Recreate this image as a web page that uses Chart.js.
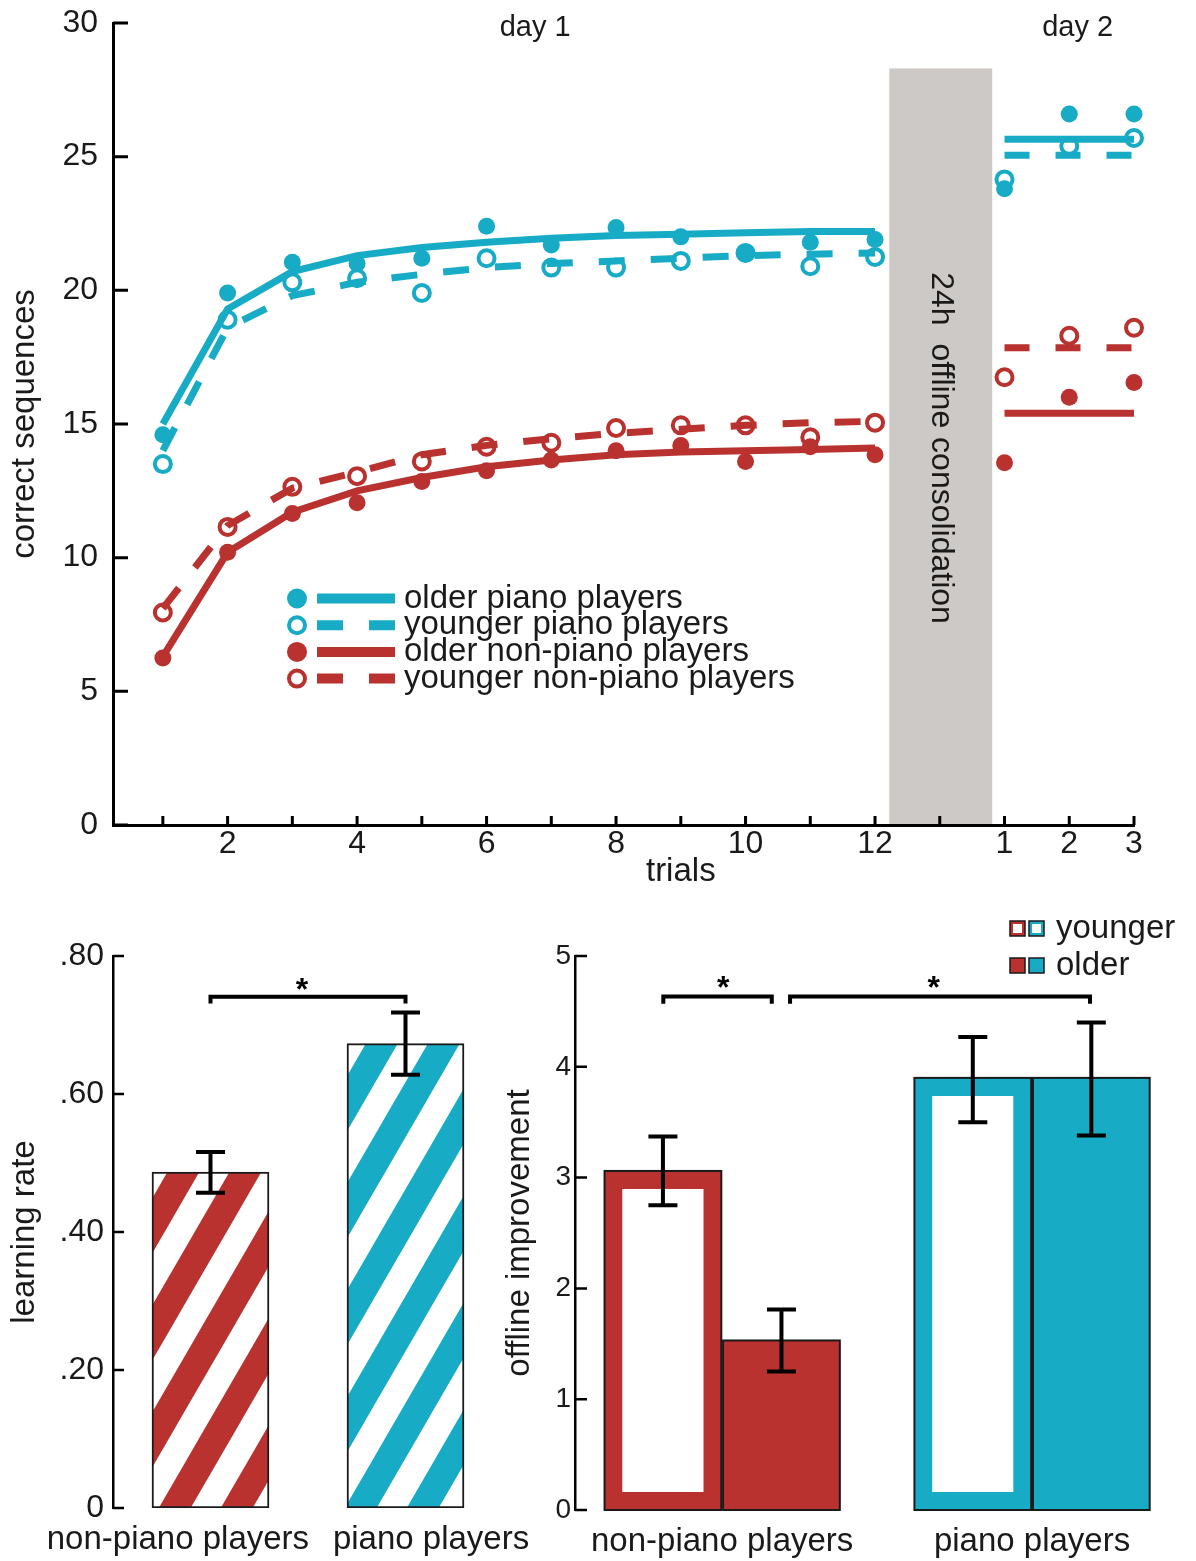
<!DOCTYPE html>
<html>
<head>
<meta charset="utf-8">
<script src="https://cdn.jsdelivr.net/npm/chart.js@4.4.1/dist/chart.umd.min.js"></script>
<style>
  html, body { margin: 0; padding: 0; background: #fff; }
  #page { position: relative; width: 1196px; height: 1561px; overflow: hidden; }
  canvas { position: absolute; }
  #trialsChart { left: 0; top: 0; }
  #rateChart { left: 0; top: 900px; }
  #offlineChart { left: 480px; top: 900px; }
</style>
</head>
<body>
<div id="page">
  <canvas id="trialsChart" width="1196" height="900"></canvas>
  <canvas id="rateChart" width="560" height="661"></canvas>
  <canvas id="offlineChart" width="716" height="661"></canvas>
</div>
<script>
const CYAN = "#17abc6";
const RED = "#b9322f";
const INK = "#1a1a1a";
const FONT = "'Liberation Sans', Arial, sans-serif";

// top panel: correct sequences per trial (day 2 trials sit after the 24h break)
const day1Trials = [1, 2, 3, 4, 5, 6, 7, 8, 9, 10, 11, 12];
const day2Trials = [14, 15, 16];
const xTickValues = [1, 2, 3, 4, 5, 6, 7, 8, 9, 10, 11, 12, 13, 14, 15, 16];
const xTickLabels = ["", "2", "", "4", "", "6", "", "8", "", "10", "", "12", "", "1", "2", "3"];

const olderPianoDay1 = [14.6, 19.9, 21.05, 21.0, 21.2, 22.4, 21.7, 22.35, 22.0, 21.4, 21.8, 21.9];
const olderPianoDay2 = [23.8, 26.6, 26.6];
const youngerPianoDay1 = [13.5, 18.9, 20.3, 20.45, 19.9, 21.2, 20.85, 20.85, 21.1, 21.4, 20.9, 21.25];
const youngerPianoDay2 = [24.15, 25.4, 25.7];
const olderNonDay1 = [6.25, 10.2, 11.65, 12.05, 12.85, 13.25, 13.65, 14.0, 14.2, 13.6, 14.15, 13.85];
const olderNonDay2 = [13.55, 16.0, 16.55];
const youngerNonDay1 = [7.95, 11.15, 12.65, 13.05, 13.6, 14.15, 14.3, 14.85, 14.95, 14.95, 14.5, 15.05];
const youngerNonDay2 = [16.75, 18.3, 18.6];

// fitted curves
const olderPianoFit = [15.0, 19.3, 20.7, 21.3, 21.6, 21.8, 21.95, 22.05, 22.1, 22.15, 22.2, 22.2];
const youngerPianoFit = [14.0, 18.6, 19.8, 20.3, 20.6, 20.85, 21.0, 21.1, 21.2, 21.3, 21.35, 21.4];
const olderNonFit = [6.3, 10.2, 11.7, 12.5, 13.0, 13.4, 13.65, 13.85, 13.95, 14.0, 14.05, 14.1];
const youngerNonFit = [8.1, 11.2, 12.6, 13.2, 13.85, 14.2, 14.45, 14.65, 14.8, 14.95, 15.05, 15.1];
const day2Fit = [25.65, 25.05, 15.4, 17.85]; // same order as the groups below

// bottom left: learning rate (bars at 1 and 2, labels sit a little outward as in the figure)
const rateGroups = ["non-piano players", "piano players"];
const rateLabelAt = [0.833, 2.131];
const learningRate = [0.487, 0.673];
const learningRateLow = [0.457, 0.628];
const learningRateHigh = [0.516, 0.718];
const rateTickLabels = ["0", ".20", ".40", ".60", ".80"];

// bottom right: offline improvement
const improvementGroups = ["non-piano players", "piano players"];
const youngerImprovement = [3.06, 3.9];
const youngerLow = [2.75, 3.5];
const youngerHigh = [3.37, 4.27];
const olderImprovement = [1.53, 3.9];
const olderLow = [1.25, 3.38];
const olderHigh = [1.81, 4.4];

Chart.defaults.font.family = FONT;
Chart.defaults.color = INK;

const groups = [
  { label: "older piano players", color: CYAN, open: false, day1: olderPianoDay1, day2: olderPianoDay2, fit: olderPianoFit },
  { label: "younger piano players", color: CYAN, open: true, day1: youngerPianoDay1, day2: youngerPianoDay2, fit: youngerPianoFit },
  { label: "older non-piano players", color: RED, open: false, day1: olderNonDay1, day2: olderNonDay2, fit: olderNonFit },
  { label: "younger non-piano players", color: RED, open: true, day1: youngerNonDay1, day2: youngerNonDay2, fit: youngerNonFit },
];

// ticks pointing into the plot, like the original figure
const inTicks = {
  id: "inTicks",
  afterDraw(chart, args, opts) {
    const { ctx, chartArea } = chart;
    ctx.save();
    ctx.strokeStyle = "#000";
    ctx.lineWidth = opts.width;
    ctx.beginPath();
    if (opts.y) {
      const ys = chart.scales.y;
      ys.ticks.forEach((t) => {
        const p = ys.getPixelForValue(t.value);
        ctx.moveTo(chartArea.left, p);
        ctx.lineTo(chartArea.left + opts.y, p);
      });
    }
    if (opts.x) {
      const xs = chart.scales.x;
      xs.ticks.forEach((t) => {
        const p = xs.getPixelForValue(t.value);
        ctx.moveTo(p, chartArea.bottom);
        ctx.lineTo(p, chartArea.bottom - opts.x);
      });
    }
    ctx.stroke();
    ctx.restore();
  },
};

const sessionNotes = {
  id: "sessionNotes",
  beforeDraw(chart, args, opts) {
    const { ctx } = chart;
    const x = chart.scales.x, y = chart.scales.y;
    const left = x.getPixelForValue(opts.box.from);
    const right = x.getPixelForValue(opts.box.to);
    const top = y.getPixelForValue(opts.box.top);
    const bottom = y.getPixelForValue(0);
    ctx.save();
    ctx.fillStyle = "#cdc9c6";
    ctx.fillRect(left, top, right - left, bottom - top);
    ctx.translate(x.getPixelForValue(opts.boxText.x), y.getPixelForValue(opts.boxText.y));
    ctx.rotate(Math.PI / 2);
    ctx.font = "32px " + FONT;
    ctx.textAlign = "center";
    ctx.textBaseline = "middle";
    ctx.fillStyle = INK;
    ctx.fillText(opts.boxText.text, 0, 0);
    ctx.restore();
  },
  afterDraw(chart, args, opts) {
    const { ctx } = chart;
    const x = chart.scales.x, y = chart.scales.y;
    ctx.save();
    ctx.font = "29px " + FONT;
    ctx.textAlign = "center";
    ctx.textBaseline = "middle";
    ctx.fillStyle = INK;
    opts.days.forEach((d) => ctx.fillText(d.text, x.getPixelForValue(d.x), y.getPixelForValue(d.y)));

    // x axis title, centred under trial 9 as in the figure
    ctx.font = "33px " + FONT;
    ctx.fillText(opts.xTitle.text, x.getPixelForValue(opts.xTitle.at), chart.chartArea.bottom + opts.xTitle.gap);

    // legend: marker, line sample, label
    const lg = opts.legend;
    ctx.textAlign = "left";
    groups.forEach((g, i) => {
      const cy = lg.top + i * lg.step;
      ctx.beginPath();
      if (g.open) {
        ctx.arc(lg.markerX, cy, 8, 0, Math.PI * 2);
        ctx.lineWidth = 4;
        ctx.strokeStyle = g.color;
        ctx.stroke();
      } else {
        ctx.arc(lg.markerX, cy, 10, 0, Math.PI * 2);
        ctx.fillStyle = g.color;
        ctx.fill();
      }
      ctx.beginPath();
      ctx.setLineDash(g.open ? [26, 26] : []);
      ctx.lineWidth = 10;
      ctx.strokeStyle = g.color;
      ctx.moveTo(lg.lineFrom, cy);
      ctx.lineTo(lg.lineTo, cy);
      ctx.stroke();
      ctx.setLineDash([]);
      ctx.fillStyle = INK;
      ctx.fillText(g.label, lg.textX, cy);
    });
    ctx.restore();
  },
};

const barOutline = {
  id: "barOutline",
  afterDatasetsDraw(chart, args, opts) {
    const { ctx } = chart;
    ctx.save();
    ctx.strokeStyle = INK;
    ctx.lineWidth = opts.width;
    chart.data.datasets.forEach((ds, di) => {
      chart.getDatasetMeta(di).data.forEach((bar) => {
        ctx.strokeRect(bar.x - bar.width / 2, bar.y, bar.width, bar.base - bar.y);
      });
    });
    ctx.restore();
  },
};

const errorBars = {
  id: "errorBars",
  afterDatasetsDraw(chart, args, opts) {
    const { ctx } = chart;
    const ys = chart.scales.y;
    ctx.save();
    ctx.strokeStyle = "#000";
    ctx.lineWidth = opts.width;
    opts.ranges.forEach((r, di) => {
      chart.getDatasetMeta(di).data.forEach((bar, j) => {
        const top = ys.getPixelForValue(r.high[j]);
        const bot = ys.getPixelForValue(r.low[j]);
        const h = opts.cap / 2;
        ctx.beginPath();
        ctx.moveTo(bar.x, top);
        ctx.lineTo(bar.x, bot);
        ctx.moveTo(bar.x - h, top);
        ctx.lineTo(bar.x + h, top);
        ctx.moveTo(bar.x - h, bot);
        ctx.lineTo(bar.x + h, bot);
        ctx.stroke();
      });
    });
    ctx.restore();
  },
};

const brackets = {
  id: "brackets",
  afterDraw(chart, args, opts) {
    const { ctx } = chart;
    const xs = chart.scales.x, ys = chart.scales.y;
    ctx.save();
    ctx.strokeStyle = "#000";
    ctx.lineWidth = 4;
    ctx.lineJoin = "miter";
    ctx.fillStyle = "#000";
    ctx.font = "bold 32px " + FONT;
    ctx.textAlign = "center";
    ctx.textBaseline = "alphabetic";
    opts.items.forEach((b) => {
      const x1 = xs.getPixelForValue(b.from), x2 = xs.getPixelForValue(b.to);
      const y = ys.getPixelForValue(b.y), yl = ys.getPixelForValue(b.leg);
      ctx.beginPath();
      ctx.moveTo(x1, yl);
      ctx.lineTo(x1, y);
      ctx.lineTo(x2, y);
      ctx.lineTo(x2, yl);
      ctx.stroke();
      ctx.fillText("*", xs.getPixelForValue(b.starX), ys.getPixelForValue(b.starY) + 18);
    });
    ctx.restore();
  },
};

const ageLegend = {
  id: "ageLegend",
  afterDraw(chart, args, opts) {
    const { ctx } = chart;
    ctx.save();
    ctx.font = "33px " + FONT;
    ctx.textBaseline = "middle";
    opts.rows.forEach((row, i) => {
      const y = opts.top + i * opts.step;
      [RED, CYAN].forEach((c, k) => {
        const x = opts.x + k * opts.gap;
        ctx.fillStyle = c;
        ctx.fillRect(x, y, opts.size, opts.size);
        if (row.open) {
          ctx.fillStyle = "#fff";
          ctx.fillRect(x + 3, y + 3, opts.size - 6, opts.size - 6);
        }
        ctx.lineWidth = 1.5;
        ctx.strokeStyle = INK;
        ctx.strokeRect(x, y, opts.size, opts.size);
      });
      ctx.fillStyle = INK;
      ctx.fillText(row.label, opts.textX, y + opts.size / 2);
    });
    ctx.restore();
  },
};

function stripes(color) {
  const tile = document.createElement("canvas");
  tile.width = 62;
  tile.height = 107;
  const c = tile.getContext("2d");
  c.fillStyle = "#fff";
  c.fillRect(0, 0, 62, 107);
  c.fillStyle = color;
  for (let k = -2; k <= 2; k++) {
    const x0 = 93 + 62 * k;
    const x1 = 31 + 62 * k;
    c.beginPath();
    c.moveTo(x0 - 16, 0);
    c.lineTo(x0 + 16, 0);
    c.lineTo(x1 + 16, 107);
    c.lineTo(x1 - 16, 107);
    c.closePath();
    c.fill();
  }
  return c.createPattern(tile, "repeat");
}

const pointSets = groups.map((g) => ({
  data: day1Trials.map((t, i) => ({ x: t, y: g.day1[i] }))
    .concat(day2Trials.map((t, i) => ({ x: t, y: g.day2[i] }))),
  showLine: false,
  pointRadius: g.open ? 8 : 8.5,
  pointBorderWidth: g.open ? 4 : 0,
  pointBorderColor: g.color,
  pointBackgroundColor: g.open ? "rgba(255,255,255,0)" : g.color,
  pointHoverRadius: g.open ? 8 : 8.5,
  clip: false,
}));

const fitSets = groups.map((g) => ({
  data: day1Trials.map((t, i) => ({ x: t, y: g.fit[i] })),
  borderColor: g.color,
  borderWidth: 7,
  borderDash: g.open ? [26, 26] : [],
  borderCapStyle: "butt",
  pointRadius: 0,
  tension: 0,
  fill: false,
  clip: false,
}));

const day2Sets = groups.map((g, gi) => ({
  data: [
    { x: day2Trials[0], y: day2Fit[gi] },
    { x: day2Trials[day2Trials.length - 1], y: day2Fit[gi] },
  ],
  borderColor: g.color,
  borderWidth: 7,
  borderDash: g.open ? [25, 26] : [],
  borderCapStyle: "butt",
  pointRadius: 0,
  fill: false,
  clip: false,
}));

const tickFont = { family: FONT, size: 32 };
const titleFont = { family: FONT, size: 33 };
const noGrid = { display: false, drawTicks: false };

// fixed axis box sizes so the plot areas land where the figure has them
function fixWidth(w) {
  return (s) => { s.width = w; s.paddingTop = 0; s.paddingBottom = 0; };
}
function fixHeight(h) {
  return (s) => { s.height = h; s.paddingLeft = 0; s.paddingRight = 0; };
}

new Chart(document.getElementById("trialsChart"), {
  type: "line",
  data: { datasets: pointSets.concat(fitSets, day2Sets) },
  options: {
    responsive: false,
    animation: false,
    events: [],
    layout: { autoPadding: false, padding: { top: 23, right: 62, left: 0, bottom: 0 } },
    plugins: {
      legend: { display: false },
      tooltip: { enabled: false },
      inTicks: { x: 9, y: 15, width: 3 },
      sessionNotes: {
        box: { from: 12.22, to: 13.81, top: 28.3 },
        boxText: { text: "24h  offline consolidation", x: 13.02, y: 14.1 },
        days: [
          { text: "day 1", x: 6.75, y: 29.8 },
          { text: "day 2", x: 15.13, y: 29.8 },
        ],
        xTitle: { text: "trials", at: 9.0, gap: 47 },
        legend: { markerX: 297, lineFrom: 317, lineTo: 395, textX: 404, top: 598.5, step: 26.7 },
      },
    },
    scales: {
      x: {
        type: "linear",
        min: 0.23,
        max: 16,
        offset: false,
        grid: noGrid,
        border: { display: true, width: 3, color: "#000" },
        afterBuildTicks: (s) => { s.ticks = xTickValues.map((v) => ({ value: v })); },
        ticks: { autoSkip: false, maxRotation: 0, padding: 0, font: tickFont, callback: (v, i) => xTickLabels[i] },
        afterFit: fixHeight(75),
      },
      y: {
        min: 0,
        max: 30,
        grid: noGrid,
        border: { display: true, width: 3, color: "#000" },
        ticks: { stepSize: 5, padding: 15, font: tickFont },
        title: { display: true, text: "correct sequences", font: titleFont, padding: { top: 5, bottom: 0 } },
        afterFit: fixWidth(113),
      },
    },
  },
  plugins: [sessionNotes, inTicks],
});

new Chart(document.getElementById("rateChart"), {
  type: "bar",
  data: {
    datasets: [
      {
        data: learningRate.map((v, i) => ({ x: i + 1, y: v })),
        backgroundColor: [stripes(RED), stripes(CYAN)],
        borderColor: INK,
        borderWidth: 2,
        borderSkipped: false,
        barThickness: 117,
      },
    ],
  },
  options: {
    responsive: false,
    animation: false,
    events: [],
    layout: { autoPadding: false, padding: { top: 56, right: 57, left: 0, bottom: 0 } },
    plugins: {
      legend: { display: false },
      tooltip: { enabled: false },
      inTicks: { y: 11, width: 2.5 },
      errorBars: { ranges: [{ low: learningRateLow, high: learningRateHigh }], cap: 29, width: 4 },
      brackets: { items: [{ from: 1, to: 2, y: 0.741, leg: 0.731, starX: 1.469, starY: 0.762 }] },
    },
    scales: {
      x: {
        type: "linear",
        min: 0.5,
        max: 2.5,
        offset: false,
        grid: noGrid,
        border: { display: false },
        afterBuildTicks: (s) => { s.ticks = rateLabelAt.map((v) => ({ value: v })); },
        ticks: { autoSkip: false, maxRotation: 0, minRotation: 0, padding: 12, font: titleFont, callback: (v, i) => rateGroups[i] },
        afterFit: fixHeight(53),
      },
      y: {
        min: 0,
        max: 0.8,
        grid: noGrid,
        border: { display: true, width: 2.5, color: "#000" },
        ticks: { stepSize: 0.2, padding: 9, font: tickFont, callback: (v, i) => rateTickLabels[i] },
        title: { display: true, text: "learning rate", font: titleFont, padding: { top: 5, bottom: 0 } },
        afterFit: fixWidth(113),
      },
    },
  },
  plugins: [inTicks, errorBars, brackets],
});

new Chart(document.getElementById("offlineChart"), {
  type: "bar",
  data: {
    datasets: [
      {
        label: "younger",
        data: youngerImprovement.map((v, i) => ({ x: i + 1, y: v })),
        backgroundColor: "#fff",
        borderColor: [RED, CYAN],
        borderWidth: 18,
        borderSkipped: false,
        categoryPercentage: 0.765,
        barPercentage: 0.985,
      },
      {
        label: "older",
        data: olderImprovement.map((v, i) => ({ x: i + 1, y: v })),
        backgroundColor: [RED, CYAN],
        borderWidth: 0,
        categoryPercentage: 0.765,
        barPercentage: 0.985,
      },
    ],
  },
  options: {
    responsive: false,
    animation: false,
    events: [],
    layout: { autoPadding: false, padding: { top: 56, right: 9, left: 0, bottom: 0 } },
    plugins: {
      legend: { display: false },
      tooltip: { enabled: false },
      inTicks: { y: 12, width: 2.5 },
      barOutline: { width: 2 },
      errorBars: {
        ranges: [
          { low: youngerLow, high: youngerHigh },
          { low: olderLow, high: olderHigh },
        ],
        cap: 29,
        width: 4,
      },
      brackets: {
        items: [
          { from: 0.81, to: 1.16, y: 4.635, leg: 4.57, starX: 1.003, starY: 4.78 },
          { from: 1.219, to: 2.187, y: 4.635, leg: 4.57, starX: 1.683, starY: 4.78 },
        ],
      },
      ageLegend: {
        rows: [{ label: "younger", open: true }, { label: "older", open: false }],
        x: 530, gap: 19, size: 15, top: 21, step: 37, textX: 576,
      },
    },
    scales: {
      x: {
        type: "linear",
        min: 0.525,
        max: 2.5,
        offset: false,
        grid: noGrid,
        border: { display: false },
        afterBuildTicks: (s) => { s.ticks = [{ value: 1 }, { value: 2 }]; },
        ticks: { autoSkip: false, maxRotation: 0, minRotation: 0, padding: 12, font: titleFont, callback: (v, i) => improvementGroups[i] },
        afterFit: fixHeight(51),
      },
      y: {
        min: 0,
        max: 5,
        grid: noGrid,
        border: { display: true, width: 2.5, color: "#000" },
        ticks: { stepSize: 1, padding: 4, font: { family: FONT, size: 28 } },
        title: { display: true, text: "offline improvement", font: titleFont, padding: { top: 20, bottom: 0 } },
        afterFit: fixWidth(95),
      },
    },
  },
  plugins: [inTicks, barOutline, errorBars, brackets, ageLegend],
});
</script>
</body>
</html>
